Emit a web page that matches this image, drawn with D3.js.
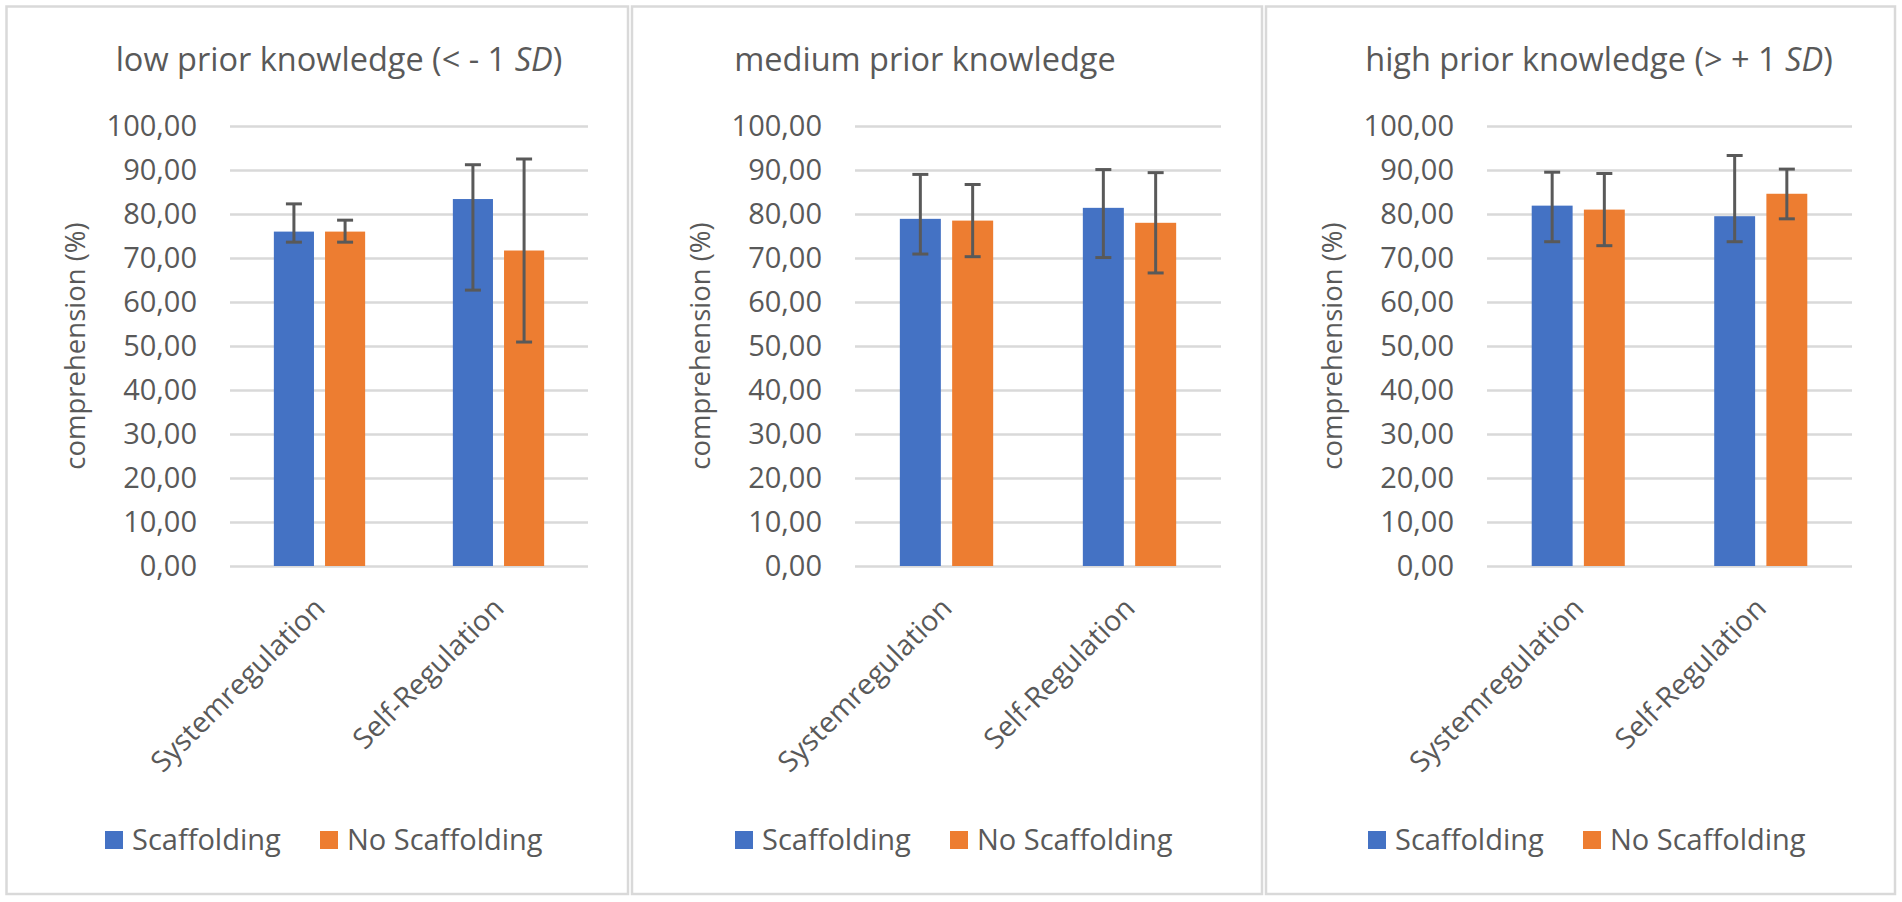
<!DOCTYPE html>
<html>
<head>
<meta charset="utf-8">
<script src="https://cdn.jsdelivr.net/npm/d3@7"></script>
<style>
  body { margin: 0; background: #fff; }
  text { font-family: "Open Sans", sans-serif; fill: #595959; }
</style>
</head>
<body>
<div id="chart"></div>
<script>
// data
const categories = ["Systemregulation", "Self-Regulation"];
const series = ["Scaffolding", "No Scaffolding"];
const titles = [
  ["low prior knowledge (< - 1 ", "SD", ")"],
  ["medium prior knowledge", "", ""],
  ["high prior knowledge (> + 1 ", "SD", ")"]
];
const yTicks = [0, 10, 20, 30, 40, 50, 60, 70, 80, 90, 100];

// means [panel][series][category]
const means = [
  [[76.0, 83.4], [76.0, 71.7]],
  [[78.9, 81.4], [78.5, 78.0]],
  [[81.9, 79.5], [81.0, 84.6]]
];
// error bar ends
const upper = [
  [[82.3, 91.2], [78.6, 92.5]],
  [[89.0, 90.1], [86.7, 89.4]],
  [[89.5, 93.3], [89.2, 90.2]]
];
const lower = [
  [[73.6, 62.7], [73.6, 50.9]],
  [[70.9, 70.1], [70.3, 66.6]],
  [[73.7, 73.7], [72.8, 78.9]]
];

const colors = ["#4472C4", "#ED7D31"];

// panel layout
const panels = [
  { left: 6.5, right: 628, plotL: 230, plotR: 588, titleX: 339, legendX: 105 },
  { left: 632, right: 1262, plotL: 855, plotR: 1221, titleX: 925, legendX: 735 },
  { left: 1266, right: 1895, plotL: 1487, plotR: 1852, titleX: 1599, legendX: 1368 }
];

const W = 1902, H = 902;
const plotTop = 126, plotBottom = 566;

const svg = d3.select("#chart").append("svg")
  .attr("width", W)
  .attr("height", H);

const locale = d3.formatLocale({ decimal: ",", thousands: ".", grouping: [3], currency: ["", ""] });
const fmt = locale.format(".2f");

const y = d3.scaleLinear().domain([0, 100]).range([plotBottom, plotTop]);

panels.forEach((p, i) => {
  const g = svg.append("g");

  // frame
  g.append("rect")
    .attr("x", p.left).attr("y", 6.5)
    .attr("width", p.right - p.left).attr("height", 894 - 6.5)
    .attr("fill", "none")
    .attr("stroke", "#d9d9d9")
    .attr("stroke-width", 2.5);

  // title
  const t = g.append("text")
    .attr("x", p.titleX).attr("y", 71)
    .attr("text-anchor", "middle")
    .style("font-size", "32.5px");
  t.append("tspan").text(titles[i][0]);
  if (titles[i][1]) t.append("tspan").style("font-style", "italic").text(titles[i][1]);
  if (titles[i][2]) t.append("tspan").text(titles[i][2]);

  // y axis with gridlines
  const yAxis = d3.axisLeft(y)
    .tickValues(yTicks)
    .tickFormat(fmt)
    .tickSizeInner(-(p.plotR - p.plotL))
    .tickSizeOuter(0)
    .tickPadding(33);

  const yg = g.append("g")
    .attr("transform", `translate(${p.plotL},0)`)
    .call(yAxis);
  yg.select(".domain").remove();
  yg.selectAll(".tick line").attr("stroke", "#d9d9d9").attr("stroke-width", 2.5);
  yg.selectAll(".tick text")
    .style("font-size", "29px")
    .style("font-family", "'Open Sans', sans-serif")
    .attr("fill", "#595959");

  // y label
  g.append("text")
    .attr("transform", `translate(${p.plotL - 155},${(plotTop + plotBottom) / 2}) rotate(-90)`)
    .attr("dy", "0.35em")
    .attr("text-anchor", "middle")
    .style("font-size", "27.5px")
    .text("comprehension (%)");

  // scales
  const x0 = d3.scaleBand()
    .domain(categories)
    .range([p.plotL, p.plotR])
    .paddingInner(0.49)
    .paddingOuter(0.245);
  const x1 = d3.scaleBand()
    .domain(series)
    .range([0, x0.bandwidth()])
    .paddingInner(0.216);

  // bars
  series.forEach((s, si) => {
    const rows = categories.map((c, ci) => ({
      cat: c, v: means[i][si][ci], hi: upper[i][si][ci], lo: lower[i][si][ci]
    }));

    g.selectAll(".bar-" + si)
      .data(rows)
      .enter()
      .append("rect")
      .attr("class", "bar-" + si)
      .attr("x", d => x0(d.cat) + x1(s))
      .attr("y", d => y(d.v))
      .attr("width", x1.bandwidth())
      .attr("height", d => y(0) - y(d.v))
      .attr("fill", colors[si]);

    // error bars
    const eb = g.selectAll(".err-" + si)
      .data(rows)
      .enter()
      .append("g")
      .attr("class", "err-" + si)
      .attr("stroke", "#595959")
      .attr("stroke-width", 3);
    const cx = d => x0(d.cat) + x1(s) + x1.bandwidth() / 2;
    eb.append("line")
      .attr("x1", cx).attr("x2", cx)
      .attr("y1", d => y(d.hi)).attr("y2", d => y(d.lo));
    eb.append("line")
      .attr("x1", d => cx(d) - 8).attr("x2", d => cx(d) + 8)
      .attr("y1", d => y(d.hi)).attr("y2", d => y(d.hi));
    eb.append("line")
      .attr("x1", d => cx(d) - 8).attr("x2", d => cx(d) + 8)
      .attr("y1", d => y(d.lo)).attr("y2", d => y(d.lo));
  });

  // category labels
  g.selectAll(".cat")
    .data(categories)
    .enter()
    .append("text")
    .attr("class", "cat")
    .attr("transform", d => `translate(${x0(d) + x0.bandwidth() / 2 + 7},610) rotate(-45)`)
    .attr("text-anchor", "end")
    .style("font-size", "28.5px")
    .text(d => d);

  // legend
  const lg = g.append("g").attr("transform", `translate(${p.legendX},831)`);
  series.forEach((s, si) => {
    const item = lg.append("g").attr("transform", `translate(${si * 215},0)`);
    item.append("rect")
      .attr("width", 18).attr("height", 18)
      .attr("fill", colors[si]);
    item.append("text")
      .attr("x", 27).attr("y", 19)
      .style("font-size", "29px")
      .text(s);
  });
});
</script>
</body>
</html>
